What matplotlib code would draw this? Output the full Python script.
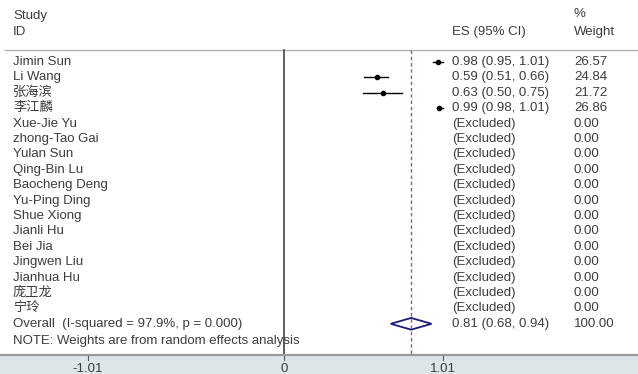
import numpy as np
import matplotlib
matplotlib.use("Agg")
import matplotlib.pyplot as plt
from matplotlib.patches import Polygon

plt.rcParams['font.family'] = ['Liberation Sans', 'Noto Sans CJK SC', 'DejaVu Sans']

studies = ["Jimin Sun", "Li Wang", "张海滨", "李江麟", "Xue-Jie Yu", "zhong-Tao Gai",
           "Yulan Sun", "Qing-Bin Lu", "Baocheng Deng", "Yu-Ping Ding", "Shue Xiong",
           "Jianli Hu", "Bei Jia", "Jingwen Liu", "Jianhua Hu", "庞卫龙", "宁玲"]
es = [0.98, 0.59, 0.63, 0.99] + [np.nan] * 13
lo = [0.95, 0.51, 0.50, 0.98] + [np.nan] * 13
hi = [1.01, 0.66, 0.75, 1.01] + [np.nan] * 13
weights = [26.57, 24.84, 21.72, 26.86] + [0.00] * 13
overall_label = "Overall  (I-squared = 97.9%, p = 0.000)"
overall = [0.81, 0.68, 0.94]
overall_weight = 100.00
xticks = [-1.01, 0, 1.01]
xticklabels = ["-1.01", "0", "1.01"]
note = "NOTE: Weights are from random effects analysis"

W, H = 638, 374
fig = plt.figure(figsize=(W / 100, H / 100), dpi=100)
fig.patch.set_facecolor('#dde5e9')

axis_px = 355
ax = fig.add_axes([0, (H - axis_px) / H, 1, axis_px / H])
ax.set_facecolor('white')

neg_factor = 197 / 159.0
def fwd(x):
    x = np.asarray(x, dtype=float)
    return np.where(x < 0, x * neg_factor, x)
def inv(x):
    x = np.asarray(x, dtype=float)
    return np.where(x < 0, x / neg_factor, x)
ax.set_xscale('function', functions=(fwd, inv))

px_per_unit = 157.0
zero_px = 284
left_t = (0 - zero_px) / px_per_unit
right_t = (W - zero_px) / px_per_unit
ax.set_xlim(left_t / neg_factor, right_t)

row0_px, row_h = 62, 15.4
def row(px):
    return (px - row0_px) / row_h
ax.set_ylim(row(axis_px), row(0))

n = len(studies)
ys = np.arange(n)
y_over = n

tc = '#3c3c3c'
fs = 9.5
tr = ax.get_yaxis_transform()
xl, xe, xw = 13 / W, 452 / W, 574 / W

# header
ax.text(xl, row(16), "Study", transform=tr, fontsize=fs, color=tc, va='center')
ax.text(xl, row(32), "ID", transform=tr, fontsize=fs, color=tc, va='center')
ax.text(xe, row(32), "ES (95% CI)", transform=tr, fontsize=fs, color=tc, va='center')
ax.text(xw, row(14), "%", transform=tr, fontsize=fs, color=tc, va='center')
ax.text(xw, row(32), "Weight", transform=tr, fontsize=fs, color=tc, va='center')

# top line
ax.axhline(row(50), xmin=5 / W, xmax=1, color='#b0b0b0', lw=1.0)

# null line and overall line
ax.plot([0, 0], [row(50), row(axis_px)], color='#333333', lw=1.1)
ax.plot([overall[0], overall[0]], [row(50), row(axis_px)], color='#9a5a70',
        lw=1.0, ls=(0, (2.5, 2)))

for i in range(n):
    ax.text(xl, ys[i], studies[i], transform=tr, fontsize=fs, color=tc, va='center')
    if np.isnan(es[i]):
        ax.text(xe, ys[i], "(Excluded)", transform=tr, fontsize=fs, color=tc, va='center')
    else:
        ax.plot([lo[i], hi[i]], [ys[i], ys[i]], color='black', lw=1.0)
        ax.plot(es[i], ys[i], 'o', color='black', ms=3)
        ax.text(xe, ys[i], f"{es[i]:.2f} ({lo[i]:.2f}, {hi[i]:.2f})", transform=tr,
                fontsize=fs, color=tc, va='center')
    ax.text(xw, ys[i], f"{weights[i]:.2f}", transform=tr, fontsize=fs, color=tc, va='center')

ax.text(xl, y_over, overall_label, transform=tr, fontsize=fs, color=tc, va='center')
dh = 0.38
diamond = Polygon([[overall[1], y_over], [overall[0], y_over - dh],
                   [overall[2], y_over], [overall[0], y_over + dh]],
                  closed=True, fill=False, edgecolor='#1c1c78', lw=1.3)
ax.add_patch(diamond)
ax.text(xe, y_over, f"{overall[0]:.2f} ({overall[1]:.2f}, {overall[2]:.2f})",
        transform=tr, fontsize=fs, color=tc, va='center')
ax.text(xw, y_over, f"{overall_weight:.2f}", transform=tr, fontsize=fs, color=tc, va='center')

ax.text(xl, row(341), note, transform=tr, fontsize=fs, color=tc, va='center')

for s in ['top', 'left', 'right']:
    ax.spines[s].set_visible(False)
ax.spines['bottom'].set_color('#9a9a9a')
ax.spines['bottom'].set_linewidth(1.6)
ax.set_yticks([])
ax.set_xticks(xticks)
ax.set_xticklabels(xticklabels)
ax.tick_params(axis='x', direction='in', length=0, labelsize=fs, labelcolor=tc, pad=6)
ax.xaxis.set_minor_locator(matplotlib.ticker.NullLocator())
for t in xticks:
    ax.plot([t, t], [row(axis_px), row(axis_px + 5)], color='#555555', lw=0.8, clip_on=False)

fig.savefig("out.png", dpi=100, facecolor=fig.get_facecolor())
